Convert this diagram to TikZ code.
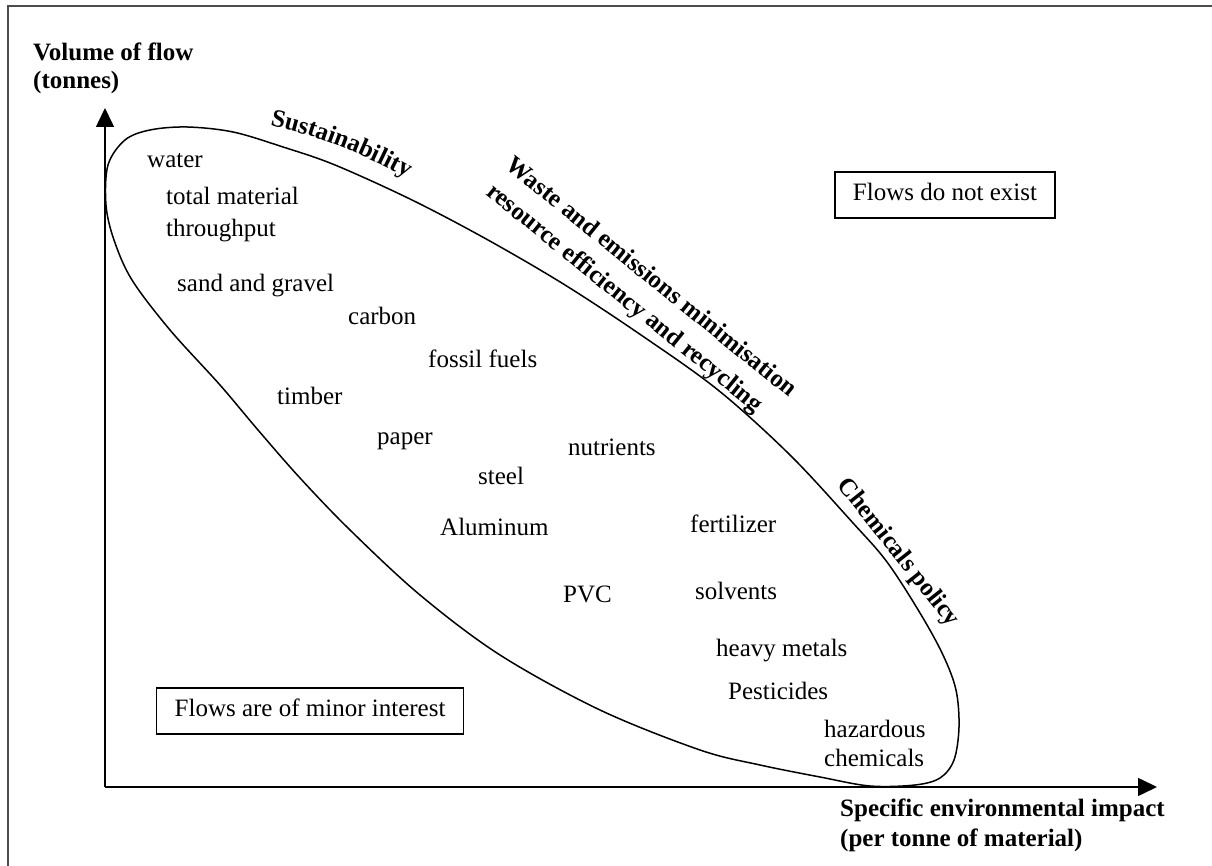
\documentclass[tikz,border=0pt]{standalone}
\usepackage{fontspec}
\setmainfont{Liberation Serif}
\usetikzlibrary{arrows.meta,decorations.text}
\begin{document}
\begin{tikzpicture}[x=1pt,y=1pt,
  lbl/.style={font=\fontsize{25}{28}\selectfont, inner sep=0pt, anchor=base west},
  axislbl/.style={font=\fontsize{25}{28}\selectfont\bfseries, inner sep=0pt, anchor=base west},
  policy/.style={font=\fontsize{25}{28}\selectfont\bfseries, inner sep=0pt},
  axis/.style={line width=1.5pt, -{Triangle[length=19pt,width=18pt]}},
  region/.style={draw, line width=1.3pt, font=\fontsize{25}{28}\selectfont,
    inner xsep=18pt, inner ysep=12pt, text height=17pt, text depth=5pt},
  outline/.style={line width=1.5pt},
  frame/.style={line width=1.6pt, black!70}]
\useasboundingbox (0,0) rectangle (1212,866);

% page frame
\draw[frame] (8,0) -- (8,860) -- (1212,860);

% axes
\coordinate (O) at (105,79);
\coordinate (ytip) at (105,758);
\coordinate (xtip) at (1157,79);
\draw[axis] (O) -- (ytip);
\draw[axis] (O) -- (xtip);

\node[axislbl] (ylab1) at (33,805) {Volume of flow};
\node[axislbl] (ylab2) at (33,777) {(tonnes)};
\node[axislbl] (xlab1) at (840,49) {Specific environmental impact};
\node[axislbl] (xlab2) at (840,19) {(per tonne of material)};

% envelope of material flows
\draw[outline] plot[smooth cycle, tension=0.55] coordinates {
  (187,739) (233,734) (283,719) (335,701) (412,666) (488,626) (565,581)
  (641,531) (718,476) (790,411) (853,343) (887,304) (920,253) (943,211)
  (956,176) (959,139) (954,106) (940,88) (915,81) (870,80) (820,89)
  (760,101) (700,116) (600,156) (500,211) (420,271) (350,336) (300,388)
  (258,436) (220,481) (170,536) (132,586) (114,626) (106,661) (108,701)
  (125,726) (150,736)};

% materials
\node[lbl] (water) at (147,698) {water};
\node[lbl] (tmat1) at (166,661) {total material};
\node[lbl] (tmat2) at (166,629) {throughput};
\node[lbl] (sand) at (177,574) {sand and gravel};
\node[lbl] (carbon) at (348,541) {carbon};
\node[lbl] (fossil) at (428,498) {fossil fuels};
\node[lbl] (timber) at (277,461) {timber};
\node[lbl] (paper) at (377,421) {paper};
\node[lbl] (steel) at (478,381) {steel};
\node[lbl] (nutr) at (568,410) {nutrients};
\node[lbl] (alu) at (440,330) {Aluminum};
\node[lbl] (fert) at (690,333) {fertilizer};
\node[lbl] (pvc) at (563,263) {PVC};
\node[lbl] (solv) at (695,266) {solvents};
\node[lbl] (heavy) at (716,209) {heavy metals};
\node[lbl] (pest) at (728,166) {Pesticides};
\node[lbl] (haz1) at (824,128) {hazardous};
\node[lbl] (haz2) at (824,99) {chemicals};

% regions of the chart
\node[region] (noexist) at (945,671) {Flows do not exist};
\node[region, anchor=west] (minor) at (156,155) {Flows are of minor interest};

% policy domains along the envelope
\path[decorate, decoration={text along path, text align=center,
  text={|\fontsize{25}{28}\selectfont\bfseries|Sustainability}}]
  (262,742) .. controls (295,737) and (360,716) .. (414,684);
\node[policy, rotate=-39] (waste) at (652,590) {Waste and emissions minimisation};
\node[policy, rotate=-39] (resource) at (624,567) {resource efficiency and recycling};
\node[policy, rotate=-51.5] (chem) at (898,313) {Chemicals policy};
\end{tikzpicture}
\end{document}
